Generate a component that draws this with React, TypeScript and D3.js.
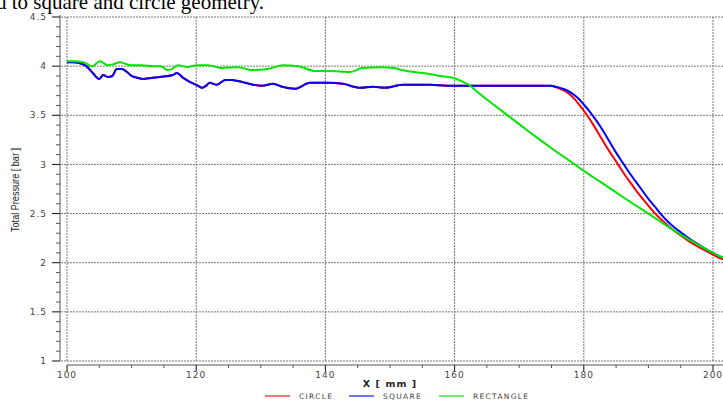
import React from "react";
import * as d3 from "d3";

// ---- data ----
const commonX = [100, 101, 102, 103, 104, 105, 105.6, 106.3, 107, 107.7, 108.5, 109.3, 110, 111, 111.8, 113, 114.4, 116.4, 117, 118, 119, 120.3, 120.9, 121.5, 122.1, 123.2, 124.5, 125.5, 127.6, 130.2, 131.9, 133.3, 135.3, 137.6, 140.4, 142.7, 145.4, 147.4, 149.2, 152, 156.2, 158.8, 162.4, 166, 170, 174.8];
const commonY = [4.04, 4.04, 4.03, 4.0, 3.93, 3.87, 3.91, 3.89, 3.9, 3.97, 3.97, 3.94, 3.9, 3.88, 3.87, 3.88, 3.89, 3.91, 3.93, 3.88, 3.84, 3.8, 3.78, 3.8, 3.83, 3.81, 3.86, 3.86, 3.83, 3.8, 3.82, 3.79, 3.77, 3.83, 3.83, 3.82, 3.78, 3.79, 3.78, 3.81, 3.81, 3.8, 3.8, 3.8, 3.8, 3.8];

const circleTailX = [175.5, 176.5, 177.5, 178.5, 179.5, 180.5, 181.5, 182.5, 183.5, 184.5, 185.5, 186.5, 187.5, 188.5, 189.5, 190.5, 191.5, 192.5, 193.5, 194.5, 195.5, 196.5, 197.5, 198.5, 199.5, 200.5, 201.8];
const circleTailY = [3.79, 3.765, 3.73, 3.67, 3.59, 3.5, 3.4, 3.29, 3.18, 3.08, 2.98, 2.88, 2.79, 2.7, 2.62, 2.54, 2.47, 2.41, 2.35, 2.3, 2.255, 2.21, 2.17, 2.135, 2.1, 2.065, 2.025];

const squareTailX = [176, 177, 178, 179, 180, 181, 182, 183, 184, 185, 186, 187, 188, 189, 190, 191, 192, 193, 194, 195, 196, 197, 198, 199, 200, 201.8];
const squareTailY = [3.785, 3.765, 3.73, 3.68, 3.61, 3.53, 3.44, 3.34, 3.23, 3.12, 3.02, 2.92, 2.83, 2.74, 2.65, 2.57, 2.49, 2.42, 2.36, 2.31, 2.26, 2.215, 2.175, 2.135, 2.1, 2.04];

const rectX = [100, 101, 102.5, 103.9, 105.1, 106.3, 107.2, 108.2, 109.8, 111.5, 113.3, 114.5, 115.5, 116.2, 117.2, 118.6, 120.1, 121.8, 124, 126.5, 128.6, 131.1, 133.4, 135.8, 138.4, 140.5, 143.8, 145.7, 148.9, 150.5, 152.6, 155.1, 157.7, 159.8, 161, 162.4, 163.5, 165, 167.5, 170, 172.5, 175, 177.5, 180, 182.5, 185, 187.5, 190, 192.5, 195, 197.5, 200, 201.8];
const rectY = [4.05, 4.05, 4.04, 4.0, 4.05, 4.01, 4.02, 4.04, 4.01, 4.01, 4.0, 4.0, 3.96, 3.97, 4.01, 3.99, 4.01, 4.01, 3.98, 3.99, 3.96, 3.97, 4.01, 4.0, 3.95, 3.95, 3.94, 3.98, 3.99, 3.98, 3.95, 3.93, 3.9, 3.88, 3.85, 3.8, 3.74, 3.66, 3.535, 3.41, 3.285, 3.165, 3.05, 2.935, 2.825, 2.715, 2.605, 2.5, 2.39, 2.285, 2.19, 2.1, 2.04];

const xTicks = [100, 120, 140, 160, 180, 200];
const yTicks = [1, 1.5, 2, 2.5, 3, 3.5, 4, 4.5];
const yTickLabels = ["1", "1.5", "2", "2.5", "3", "3.5", "4", "4.5"];

const seriesNames = ["CIRCLE", "SQUARE", "RECTANGLE"];

export default function App() {
  const W = 723, H = 400;
  const x = d3.scaleLinear().domain([100, 200]).range([67, 713]);
  const y = d3.scaleLinear().domain([1, 4.5]).range([361, 17]);
  const axisX = 60;
  const axisY = 365;

  const line = d3
    .line<[number, number]>()
    .x((d) => x(d[0]))
    .y((d) => y(d[1]))
    .curve(d3.curveMonotoneX);

  const circleAllY = [...commonY, ...circleTailY];
  const squareAllY = [...commonY, ...squareTailY];
  const circlePts: [number, number][] = [...commonX, ...circleTailX].map((v, i) => [v, circleAllY[i]]);
  const squarePts: [number, number][] = [...commonX, ...squareTailX].map((v, i) => [v, squareAllY[i]]);
  const rectPts: [number, number][] = rectX.map((v, i) => [v, rectY[i]]);

  const minorX = d3.range(100, 205, 5);
  const minorY = d3.range(10, 46, 1).map((v) => v / 10);

  const legendColors = ["#f27878", "#7474f4", "#74e874"];
  const legendLineX = [265, 349, 439];

  return (
    <svg width={W} height={H} style={{ position: "absolute", left: 0, top: 0, background: "#fff" }}>
      <text x={-4} y={9} fontFamily="Liberation Serif, serif" fontSize={21} fill="#000">
        d to square and circle geometry.
      </text>
      {/* grid */}
      {yTicks.map((t) => (
        <line key={"gy" + t} x1={axisX + 1} x2={W} y1={y(t)} y2={y(t)} stroke="#777" strokeWidth={1} strokeDasharray="2,1" />
      ))}
      {xTicks.map((t) => (
        <line key={"gx" + t} x1={x(t)} x2={x(t)} y1={17} y2={361} stroke="#777" strokeWidth={1} strokeDasharray="2,1" />
      ))}
      {/* y axis */}
      <line x1={axisX} x2={axisX} y1={15} y2={361} stroke="#555" strokeWidth={1} />
      {minorY.map((t) => {
        const major = Math.abs(t * 2 - Math.round(t * 2)) < 1e-6;
        return (
          <line key={"ty" + t} x1={axisX - (major ? 8 : 4)} x2={axisX} y1={y(t)} y2={y(t)} stroke={major ? "#111" : "#555"} strokeWidth={1} />
        );
      })}
      {yTicks.map((t, i) => (
        <text key={"ly" + t} x={47} y={y(t)} dy="0.35em" textAnchor="end" fontFamily="DejaVu Sans, sans-serif" fontSize={9} letterSpacing={1} fill="#444">
          {yTickLabels[i]}
        </text>
      ))}
      {/* x axis */}
      <line x1={x(100)} x2={W} y1={axisY} y2={axisY} stroke="#555" strokeWidth={1} />
      {minorX.map((t) => {
        const major = t % 20 === 0;
        return (
          <line key={"tx" + t} x1={x(t)} x2={x(t)} y1={axisY} y2={axisY + (major ? 6 : 3)} stroke={major ? "#111" : "#555"} strokeWidth={1} />
        );
      })}
      {xTicks.map((t) => (
        <text key={"lx" + t} x={x(t)} y={378} textAnchor="middle" fontFamily="DejaVu Sans, sans-serif" fontSize={9} letterSpacing={1} fill="#444">
          {t}
        </text>
      ))}
      <text x={390} y={387} textAnchor="middle" fontFamily="DejaVu Sans, sans-serif" fontWeight="bold" fontSize={9.5} letterSpacing={1.1} fill="#222">
        X [ mm ]
      </text>
      <text
        transform="translate(19,190) rotate(-90)"
        textAnchor="middle"
        fontFamily="Liberation Sans Narrow, Liberation Sans, sans-serif"
        fontSize={10}
        textLength={84}
        lengthAdjust="spacingAndGlyphs"
        fill="#222"
      >
        Total Pressure [ bar ]
      </text>
      {/* series */}
      <path d={line(circlePts) || ""} fill="none" stroke="#ff0000" strokeWidth={2} />
      <path d={line(squarePts) || ""} fill="none" stroke="#0000ff" strokeWidth={2} />
      <path d={line(rectPts) || ""} fill="none" stroke="#00e600" strokeWidth={2} />
      {/* legend */}
      {seriesNames.map((n, i) => (
        <g key={n}>
          <line x1={legendLineX[i]} x2={legendLineX[i] + 25} y1={396} y2={396} stroke={legendColors[i]} strokeWidth={2} />
          <text x={legendLineX[i] + 34} y={398.5} fontFamily="DejaVu Sans, sans-serif" fontSize={7.5} letterSpacing={1.3} fill="#444">
            {n}
          </text>
        </g>
      ))}
    </svg>
  );
}
